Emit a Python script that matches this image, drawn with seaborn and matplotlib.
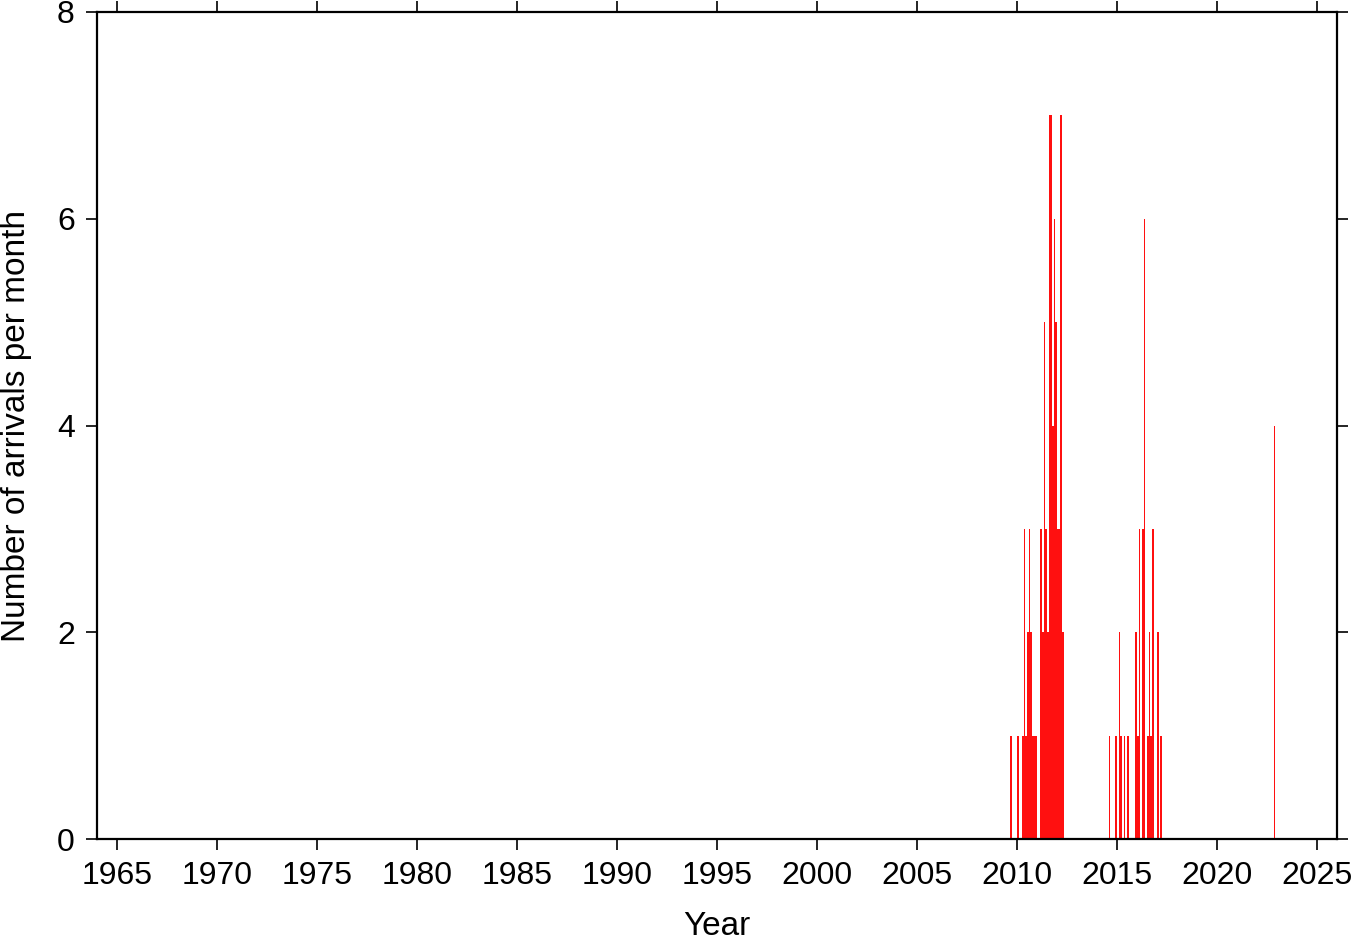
import numpy as np
import pandas as pd
import matplotlib
matplotlib.use("Agg")
import matplotlib.pyplot as plt
import seaborn as sns

# monthly arrival counts (months with zero arrivals left out)
years = [2009, 2010, 2010, 2010, 2010, 2010, 2010, 2010, 2010, 2010, 2010,
         2011, 2011, 2011, 2011, 2011, 2011, 2011, 2011, 2011, 2011,
         2012, 2012, 2012, 2012,
         2014, 2014, 2015, 2015, 2015, 2015, 2015,
         2016, 2016, 2016, 2016, 2016, 2016, 2016, 2016,
         2017, 2017, 2022]
months = [9, 1, 4, 5, 6, 7, 8, 9, 10, 11, 12,
          3, 4, 5, 6, 7, 8, 9, 10, 11, 12,
          1, 2, 3, 4,
          8, 12, 2, 3, 5, 7, 12,
          1, 2, 4, 5, 7, 8, 9, 10,
          1, 3, 11]
counts = [1, 1, 1, 3, 1, 2, 3, 2, 1, 1, 1,
          3, 2, 5, 3, 2, 7, 7, 4, 6, 5,
          3, 3, 7, 2,
          1, 1, 2, 1, 1, 1, 2,
          1, 3, 3, 6, 1, 2, 1, 3,
          2, 1, 4]

year_ticks = list(range(1965, 2026, 5))
count_ticks = [0, 2, 4, 6, 8]

df = pd.DataFrame({"year": years, "month": months, "count": counts})
df["date"] = df["year"] + (df["month"] - 0.5) / 12

sns.set_style("ticks")
plt.rcParams["font.family"] = ["Liberation Sans", "DejaVu Sans"]
plt.rcParams["text.color"] = "black"
plt.rcParams["axes.labelcolor"] = "black"
plt.rcParams["xtick.color"] = "black"
plt.rcParams["ytick.color"] = "black"

fig = plt.figure(figsize=(13.63, 9.42), dpi=100)
ax = fig.add_axes([0.0712, 0.1093, 0.9098, 0.878])

sns.histplot(data=df, x="date", weights="count", binwidth=1 / 12,
             binrange=(1964, 2026), color="#ff1010", alpha=1,
             linewidth=0, ax=ax)

ax.set_xlim(1964, 2026)
ax.set_ylim(0, 8)
ax.set_xticks(year_ticks)
ax.set_yticks(count_ticks)
ax.set_xlabel("Year", fontsize=24, labelpad=14)
ax.set_ylabel("Number of arrivals per month", fontsize=24, labelpad=18)

for side in ["top", "right", "bottom", "left"]:
    ax.spines[side].set_visible(True)
    ax.spines[side].set_linewidth(1.6)
    ax.spines[side].set_color("black")

ax.tick_params(axis="both", which="major", direction="out", length=8, width=1.2,
               labelsize=23, pad=8, top=True, right=True,
               labeltop=False, labelright=False, colors="black")

fig.savefig("out.png", dpi=100)
